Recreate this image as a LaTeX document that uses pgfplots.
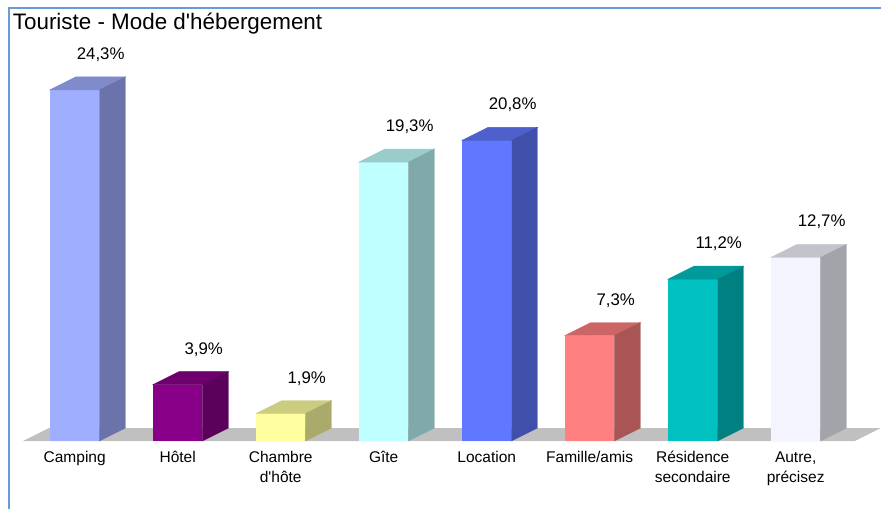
\documentclass[border=0pt]{standalone}
\usepackage{fontspec}
\setmainfont{Liberation Sans}
\newfontfamily\af{Liberation Sans}
\usepackage{pgfplots}
\usepackage{pgfplotstable}
\pgfplotsset{compat=1.18}

\definecolor{front0}{HTML}{A0AEFF}\definecolor{side0}{HTML}{6B74AA}\definecolor{top0}{HTML}{808BCC}
\definecolor{front1}{HTML}{880088}\definecolor{side1}{HTML}{5B005B}\definecolor{top1}{HTML}{6D006D}
\definecolor{front2}{HTML}{FFFFA0}\definecolor{side2}{HTML}{AAAA6B}\definecolor{top2}{HTML}{CCCC80}
\definecolor{front3}{HTML}{C0FFFF}\definecolor{side3}{HTML}{80AAAA}\definecolor{top3}{HTML}{9ACCCC}
\definecolor{front4}{HTML}{6078FF}\definecolor{side4}{HTML}{4050AA}\definecolor{top4}{HTML}{4D60CC}
\definecolor{front5}{HTML}{FF8080}\definecolor{side5}{HTML}{AA5555}\definecolor{top5}{HTML}{CC6666}
\definecolor{front6}{HTML}{00C0C0}\definecolor{side6}{HTML}{008080}\definecolor{top6}{HTML}{009A9A}
\definecolor{front7}{HTML}{F4F4FF}\definecolor{side7}{HTML}{A3A3AA}\definecolor{top7}{HTML}{C3C3CC}
\definecolor{floorgray}{HTML}{C0C0C0}
\definecolor{bordercol}{HTML}{6A9AD8}

\pgfplotstableread{
i v
0 24.3
1 3.9
2 1.9
3 19.3
4 20.8
5 7.3
6 11.2
7 12.7
}\datatab

\begin{document}
\begin{tikzpicture}
\useasboundingbox (0,0) rectangle (881pt,509pt);
\fill[white] (0,0) rectangle (881pt,509pt);
\draw[bordercol, line width=2pt] (9pt,0pt) -- (9pt,500.7pt) -- (881pt,500.7pt);
\node[anchor=base west, inner sep=0pt, font=\af\fontsize{22.4}{26}\selectfont] at (12.7pt,479pt) {Touriste - Mode d'hébergement};
\begin{axis}[
  at={(23.2pt,68pt)}, anchor=south west,
  x=103pt, y=14.45pt,
  xmin=-0.5, xmax=7.6, ymin=0, ymax=26,
  clip=false,
  axis line style={draw=none},
  major tick length=0pt,
  ytick=\empty,
  xtick={0,...,7},
  xticklabels={Camping, Hôtel, Chambre\\d'hôte, Gîte, Location, Famille/amis, Résidence\\secondaire, {Autre,\\précisez}},
  typeset ticklabels with strut,
  xticklabel style={align=center, anchor=north, inner sep=0pt, yshift=-7.5pt, font=\af\fontsize{15.5}{20}\selectfont},
]
\fill[floorgray] (axis cs:-0.5,0) -- (axis cs:7.575,0) -- ([shift={(26pt,13pt)}]axis cs:7.575,0) -- ([shift={(26pt,13pt)}]axis cs:-0.5,0) -- cycle;
\pgfplotsinvokeforeach{0,...,7}{
  \addplot[ybar, bar width=49.5pt, fill=front#1, draw=none,
    x filter/.expression={abs(x-#1)<0.1 ? x : nan}] table[x=i,y=v]{\datatab};
}
% top and side faces of each bar
\addplot[scatter, only marks, mark=*, mark size=0pt,
  point meta=y,
  visualization depends on={\thisrow{i} \as \idxraw},
  visualization depends on={\thisrow{v} \as \barval},
  scatter/@pre marker code/.code={%
    \pgfmathtruncatemacro\idx{round(\idxraw)}%
    \pgfmathsetmacro\barH{\barval*14.45}%
    \fill[top\idx] (-24.75pt,0pt) -- (24.75pt,0pt) -- (50.75pt,13pt) -- (1.25pt,13pt) -- cycle;
    \fill[side\idx] (24.75pt,0pt) -- (50.75pt,13pt) -- ({50.75pt},{(13-\barH)*1pt}) -- ({24.75pt},{-\barH*1pt}) -- cycle;
  },
  scatter/@post marker code/.code={},
] table[x=i,y=v]{\datatab};
% value labels
\addplot[draw=none, mark=none,
  point meta=y,
  nodes near coords={\pgfmathprintnumber[assume math mode=true, use comma, fixed, fixed zerofill, precision=1]{\pgfplotspointmeta}\%},
  every node near coord/.style={anchor=base, inner sep=0pt, xshift=26pt, yshift=30.5pt, font=\af\fontsize{16.8}{19}\selectfont, text=black},
] table[x=i,y=v]{\datatab};
\end{axis}
\end{tikzpicture}
\end{document}
